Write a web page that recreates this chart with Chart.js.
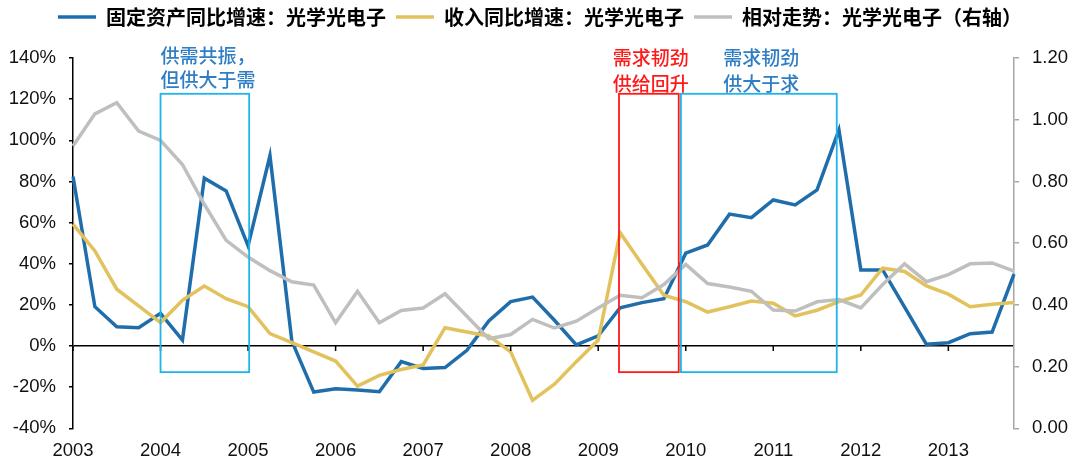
<!DOCTYPE html>
<html>
<head>
<meta charset="utf-8">
<script src="https://cdn.jsdelivr.net/npm/chart.js@4/dist/chart.umd.min.js"></script>
<style>
  html,body{margin:0;padding:0;background:#fff;}
  canvas{display:block;}
</style>
</head>
<body>
<canvas id="chartOptics" width="1080" height="473"></canvas>
<script>

/* ==========================================
   DATA
========================================== */
const years = [2003,2004,2005,2006,2007,2008,2009,2010,2011,2012,2013];

const quarterLabels =
years.flatMap(y=>[y+"Q1",y+"Q2",y+"Q3",y+"Q4"]);

// 固定资产同比增速 (%)
const capexGrowth = [
  82.4, 19.1, 9.4, 8.9,
  15.9, 2.9, 81.6, 75.4,
  48.7, 92.5, 2.4, -22.4,
  -20.8, -21.4, -22.2, -7.6,
  -10.9, -10.5, -2.1, 12.2,
  21.6, 23.8, 12.5, 0.5,
  4.9, 18.6, 21.1, 23.0,
  45.1, 49.1, 64.1, 62.4,
  71.0, 68.6, 75.9, 105.0,
  37.0, 37.0, 18.9, 0.8,
  1.6, 6.0, 6.8, 34.9
];

// 收入同比增速 (%)
const revenueGrowth = [
  59.2, 46.2, 27.6, 19.5,
  11.4, 22.2, 29.2, 23.0,
  19.1, 6.0, 1.6, -2.8,
  -7.3, -19.5, -14.3, -11.4,
  -9.2, 8.9, 6.8, 4.9,
  -2.8, -26.4, -18.6, -7.6,
  2.9, 55.1, 39.8, 24.7,
  21.6, 16.5, 19.1, 21.9,
  20.8, 14.6, 17.4, 21.6,
  24.8, 37.8, 36.2, 29.2,
  25.2, 19.1, 20.3, 21.1
];

// 相对走势 (右轴)
const relativeTrend = [
  0.915, 1.019, 1.055, 0.963,
  0.933, 0.855, 0.726, 0.609,
  0.555, 0.511, 0.475, 0.464,
  0.342, 0.444, 0.342, 0.382,
  0.390, 0.436, 0.363, 0.290,
  0.304, 0.353, 0.325, 0.347,
  0.390, 0.431, 0.423, 0.466,
  0.531, 0.469, 0.458, 0.444,
  0.383, 0.380, 0.410, 0.417,
  0.390, 0.466, 0.533, 0.475,
  0.498, 0.533, 0.536, 0.509
];

const seriesNames = [
  "固定资产同比增速：光学光电子",
  "收入同比增速：光学光电子",
  "相对走势：光学光电子（右轴）"
];

// annotation boxes, x in quarter index, y in %
const boxFrom  = [4.0, 24.95, 27.78];
const boxTo    = [8.05, 27.68, 34.9];
const boxTop   = [122.6, 122.6, 122.6];
const boxBottom= [-12.7, -12.7, -12.7];
const boxLines = [
  ["供需共振，","但供大于需"],
  ["需求韧劲","供给回升"],
  ["需求韧劲","供大于求"]
];

/* ==========================================
   STYLE
========================================== */
const BLUE   = "#1f6eab";
const YELLOW = "#e2c25c";
const GREY   = "#bfbfbf";
const CYAN   = "#1fb4ea";
const RED    = "#ff1a1a";
const NOTE_BLUE = "#2f7ec4";

const boxColors  = [CYAN, RED, CYAN];
const textColors = [NOTE_BLUE, RED, NOTE_BLUE];
const textAlign  = ["left","center","center"];
const textX      = [4.0, 26.4, 31.45];
const textY      = [[141.3,129.6],[140.2,127.6],[140.2,127.6]];

const tickFont = {family:"'Liberation Sans', Arial, sans-serif", size:18.5};
const cjkFont  = "'Noto Sans CJK SC', sans-serif";

/* ==========================================
   PLUGINS
========================================== */
const legendGap = {
  id:"legendGap",
  beforeInit(chart){

    const fit = chart.legend.fit;

    chart.legend.fit = function(){
      fit.call(this);
      this.height += 21;
    };

  }
};

const yearTicks = {
  id:"yearTicks",
  afterDatasetsDraw(chart){

    const x = chart.scales.x;
    const y = chart.scales.y;
    const ctx = chart.ctx;
    const y0 = y.getPixelForValue(0);

    ctx.save();
    ctx.strokeStyle = "#000";
    ctx.lineWidth = 1.5;

    quarterLabels.forEach((q,i)=>{

      if(i % 4 !== 0) return;

      const px = x.getPixelForValue(i);
      ctx.beginPath();
      ctx.moveTo(px, y0);
      ctx.lineTo(px, y0 + 5);
      ctx.stroke();

    });

    ctx.restore();
  }
};

const noteBoxes = {
  id:"noteBoxes",
  afterDraw(chart){

    const x = chart.scales.x;
    const y = chart.scales.y;
    const ctx = chart.ctx;

    ctx.save();

    boxFrom.forEach((from,i)=>{

      const left   = x.getPixelForValue(from);
      const right  = x.getPixelForValue(boxTo[i]);
      const top    = y.getPixelForValue(boxTop[i]);
      const bottom = y.getPixelForValue(boxBottom[i]);

      ctx.strokeStyle = boxColors[i];
      ctx.lineWidth = 1.8;
      ctx.strokeRect(left, top, right-left, bottom-top);

      ctx.fillStyle = textColors[i];
      ctx.font = "500 19px " + cjkFont;
      ctx.textAlign = textAlign[i];
      ctx.textBaseline = "middle";

      boxLines[i].forEach((line,k)=>{

        ctx.fillText(
          line,
          x.getPixelForValue(textX[i]),
          y.getPixelForValue(textY[i][k])
        );

      });

    });

    ctx.restore();
  }
};

/* ==========================================
   CHART
========================================== */
function renderChart(){

  new Chart(
    document.getElementById("chartOptics"),
    {
      type:"line",
      data:{
        labels:quarterLabels,
        datasets:[
          {
            label:seriesNames[0],
            data:capexGrowth,
            borderColor:BLUE,
            backgroundColor:BLUE,
            borderWidth:3.5,
            yAxisID:"y",
            order:2
          },
          {
            label:seriesNames[1],
            data:revenueGrowth,
            borderColor:YELLOW,
            backgroundColor:YELLOW,
            borderWidth:3.5,
            yAxisID:"y",
            order:1
          },
          {
            label:seriesNames[2],
            data:relativeTrend,
            borderColor:GREY,
            backgroundColor:GREY,
            borderWidth:3.5,
            yAxisID:"y1",
            order:0
          }
        ]
      },
      options:{
        responsive:false,
        animation:false,
        layout:{
          padding:{left:0, top:-3, right:0, bottom:0}
        },
        elements:{
          line:{tension:0},
          point:{radius:0}
        },
        plugins:{
          tooltip:{enabled:false},
          legend:{
            position:"top",
            align:"center",
            labels:{
              usePointStyle:true,
              pointStyle:"line",
              pointStyleWidth:38,
              padding:10,
              color:"#000",
              font:{family:cjkFont, size:20, weight:"bold"},
              sort:(a,b)=>a.datasetIndex-b.datasetIndex
            }
          }
        },
        scales:{
          x:{
            type:"category",
            offset:false,
            border:{display:false},
            grid:{display:false, drawTicks:false},
            ticks:{
              autoSkip:false,
              maxRotation:0,
              padding:12,
              color:"#111",
              font:tickFont,
              callback(v,i){
                return i % 4 === 0 ? this.getLabelForValue(v).slice(0,4) : "";
              }
            },
            afterFit(s){ s.height = 44.7; }
          },
          y:{
            position:"left",
            min:-40,
            max:140,
            border:{display:true, color:"#000", width:1.5},
            grid:{
              drawTicks:true,
              tickLength:4,
              tickColor:"#000",
              lineWidth:1.5,
              color:ctx=>ctx.tick && ctx.tick.value === 0 ? "#000" : "rgba(0,0,0,0)"
            },
            ticks:{
              stepSize:20,
              padding:13,
              color:"#111",
              font:tickFont,
              callback:v=>v + "%"
            },
            afterFit(s){ s.width = 73; }
          },
          y1:{
            position:"right",
            min:0,
            max:1.2,
            border:{display:true, color:"#a6a6a6", width:1.5},
            grid:{
              drawOnChartArea:false,
              tickLength:5,
              tickColor:"#a6a6a6",
              lineWidth:1.5
            },
            ticks:{
              stepSize:0.2,
              padding:13,
              color:"#111",
              font:tickFont,
              callback:v=>v.toFixed(2)
            },
            afterFit(s){ s.width = 66; }
          }
        }
      },
      plugins:[legendGap, yearTicks, noteBoxes]
    }
  );

}

renderChart();

</script>
</body>
</html>
